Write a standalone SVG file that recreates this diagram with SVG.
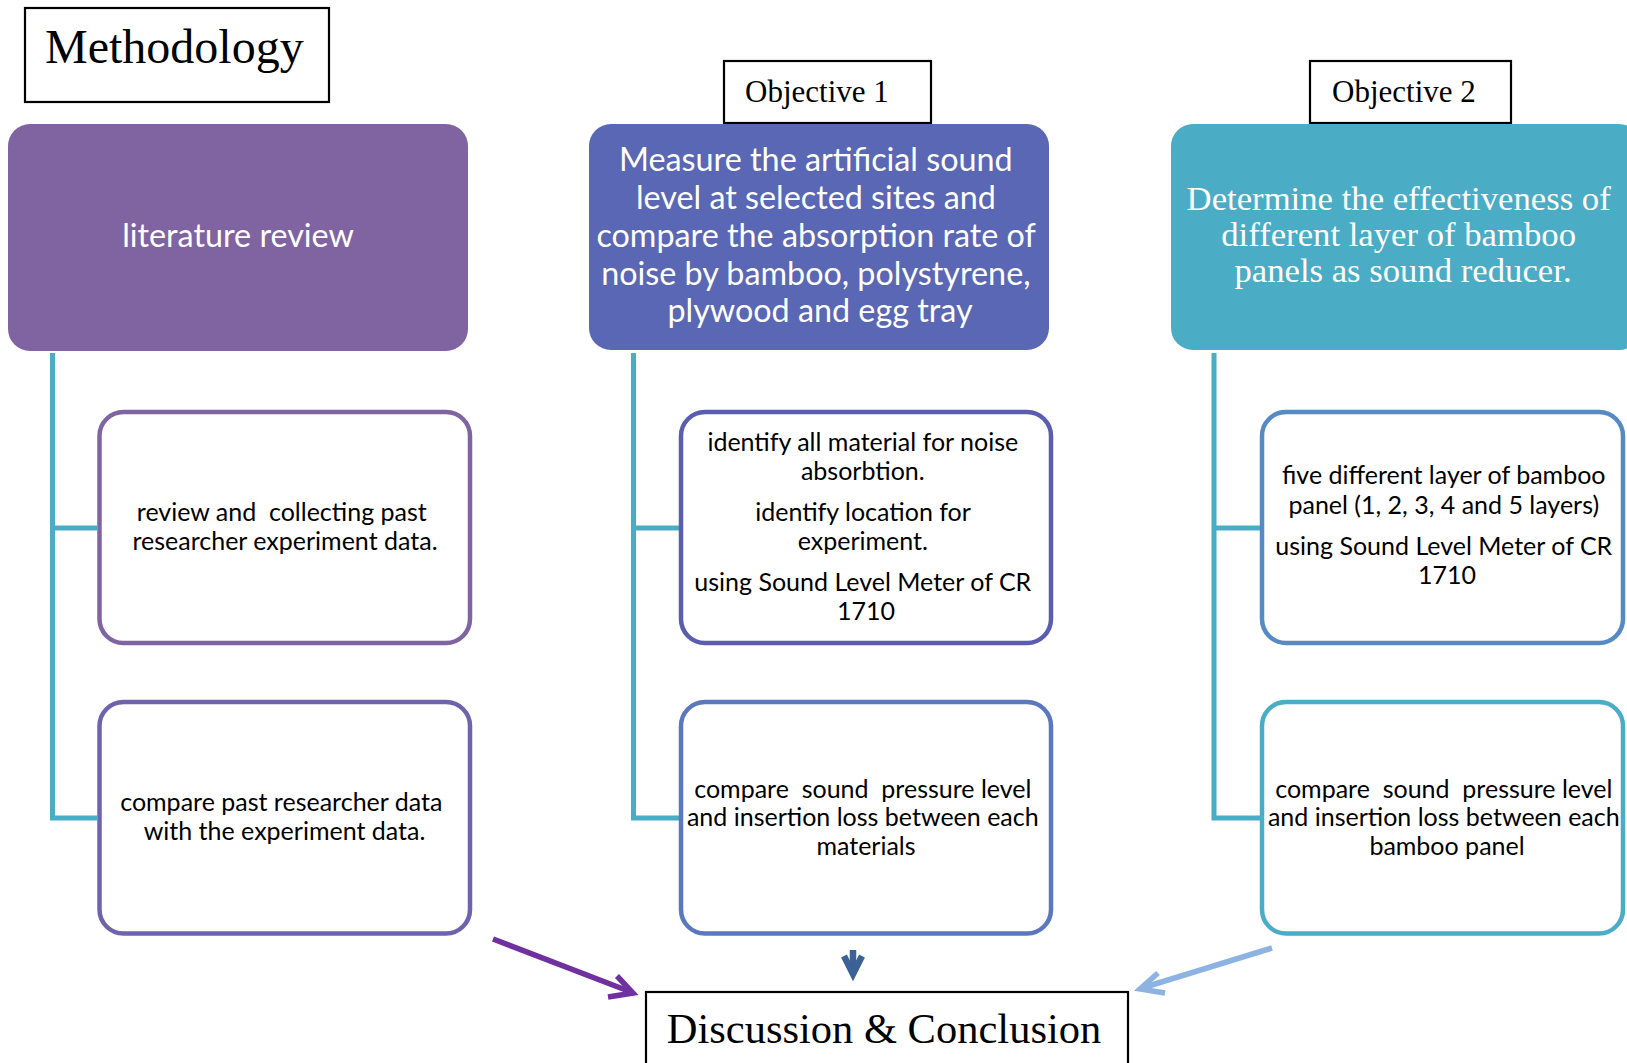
<svg xmlns="http://www.w3.org/2000/svg" width="1627" height="1063" viewBox="0 0 1627 1063">
<style>
.lbl{fill:#fff;stroke:#000;stroke-width:2.2}
.serif{font-family:"Liberation Serif","Times New Roman",serif;fill:#000}
.sans{font-family:Lato,"Liberation Sans",sans-serif}
.head{font-size:32.3px;fill:#fff;text-anchor:middle}
.body{font-size:25px;fill:#000;text-anchor:middle}
.sub{fill:#fff;stroke-width:4.5}
.conn{fill:none;stroke:#4BACC6;stroke-width:5}
</style>
<rect width="1627" height="1063" fill="#fff"/>

<g id="methodology">
<rect class="lbl" x="25" y="8" width="304" height="94"/>
<text class="serif" x="45" y="63" font-size="48">Methodology</text>
</g>

<g id="objective1-label">
<rect class="lbl" x="724" y="61" width="207" height="62"/>
<text class="serif" x="745" y="102" font-size="31">Objective 1</text>
</g>

<g id="objective2-label">
<rect class="lbl" x="1310" y="61" width="201" height="62"/>
<text class="serif" x="1332" y="102" font-size="31">Objective 2</text>
</g>

<g id="literature-review">
<rect x="8" y="124" width="460" height="227" rx="22" fill="#8064A2"/>
<text class="sans head" x="238" y="247">literature review</text>
</g>

<g id="objective1">
<rect x="589" y="124" width="460" height="226" rx="22" fill="#5A67B4"/>
<text class="sans head" x="820">
<tspan x="820" y="171">Measure the artificial sound</tspan>
<tspan x="820" y="208.5">level at selected sites and</tspan>
<tspan x="820" y="246.5">compare the absorption rate of</tspan>
<tspan x="820" y="285">noise by bamboo, polystyrene,</tspan>
<tspan x="820" y="322">plywood and egg tray</tspan>
</text>
</g>

<g id="objective2">
<rect x="1171" y="124" width="470" height="226" rx="22" fill="#4BACC6"/>
<text class="serif" x="1403" font-size="34.7" text-anchor="middle" style="fill:#fff">
<tspan x="1403" y="210">Determine the effectiveness of</tspan>
<tspan x="1403" y="245.5">different layer of bamboo</tspan>
<tspan x="1403" y="281.5">panels as sound reducer.</tspan>
</text>
</g>

<g id="connectors">
<path class="conn" d="M52.5,353 V818 H97 M52.5,528 H97"/>
<path class="conn" d="M633.5,353 V818 H679 M633.5,528 H679"/>
<path class="conn" d="M1214,353 V818 H1260 M1214,528 H1260"/>
<path d="M493,939 L631,992" fill="none" stroke="#7030A0" stroke-width="5.5"/>
<path d="M617,976 L633,993 L608,997" fill="none" stroke="#7030A0" stroke-width="5.5"/>
<path d="M853,950 V973" fill="none" stroke="#3B6196" stroke-width="6.5"/>
<path d="M844,956 L853,974 L862,956" fill="none" stroke="#3B6196" stroke-width="6.5"/>
<path d="M1272,948 L1142,988" fill="none" stroke="#8DB3E2" stroke-width="5.5"/>
<path d="M1158,973 L1140,989 L1165,993" fill="none" stroke="#8DB3E2" stroke-width="5.5"/>
</g>

<g id="review-collect">
<rect class="sub" x="99.5" y="412" width="370.5" height="231" rx="24" stroke="#8064A2"/>
<text class="sans body">
<tspan x="285" y="520.5">review and&#160; collecting past</tspan>
<tspan x="285" y="550">researcher experiment data.</tspan>
</text>
</g>

<g id="compare-past">
<rect class="sub" x="99.5" y="702" width="370.5" height="231.5" rx="24" stroke="#6F63AD"/>
<text class="sans body">
<tspan x="284.5" y="810.5">compare past researcher data</tspan>
<tspan x="284.5" y="840">with the experiment data.</tspan>
</text>
</g>

<g id="identify">
<rect class="sub" x="681" y="412" width="370" height="231" rx="24" stroke="#5B5EB0"/>
<text class="sans body">
<tspan x="866" y="451">identify all material for noise</tspan>
<tspan x="866" y="480">absorbtion.</tspan>
<tspan x="866" y="520.5">identify location for</tspan>
<tspan x="866" y="550">experiment.</tspan>
<tspan x="866" y="591">using Sound Level Meter of CR</tspan>
<tspan x="866" y="620">1710</tspan>
</text>
</g>

<g id="compare-materials">
<rect class="sub" x="681" y="702" width="370" height="231.5" rx="24" stroke="#5B78BF"/>
<text class="sans body">
<tspan x="866" y="798">compare&#160; sound&#160; pressure level</tspan>
<tspan x="866" y="826">and insertion loss between each</tspan>
<tspan x="866" y="854.5">materials</tspan>
</text>
</g>

<g id="five-layers">
<rect class="sub" x="1262" y="412" width="361" height="231" rx="24" stroke="#558BC2"/>
<text class="sans body">
<tspan x="1447" y="484">five different layer of bamboo</tspan>
<tspan x="1447" y="514">panel (1, 2, 3, 4 and 5 layers)</tspan>
<tspan x="1447" y="555">using Sound Level Meter of CR</tspan>
<tspan x="1447" y="584">1710</tspan>
</text>
</g>

<g id="compare-panels">
<rect class="sub" x="1262" y="702" width="361" height="231.5" rx="24" stroke="#4BACC6"/>
<text class="sans body">
<tspan x="1447" y="798">compare&#160; sound&#160; pressure level</tspan>
<tspan x="1447" y="826">and insertion loss between each</tspan>
<tspan x="1447" y="854.5">bamboo panel</tspan>
</text>
</g>

<g id="discussion">
<rect class="lbl" x="646" y="992" width="482" height="90"/>
<text class="serif" x="884" y="1043" font-size="42.5" text-anchor="middle">Discussion &amp; Conclusion</text>
</g>
</svg>
